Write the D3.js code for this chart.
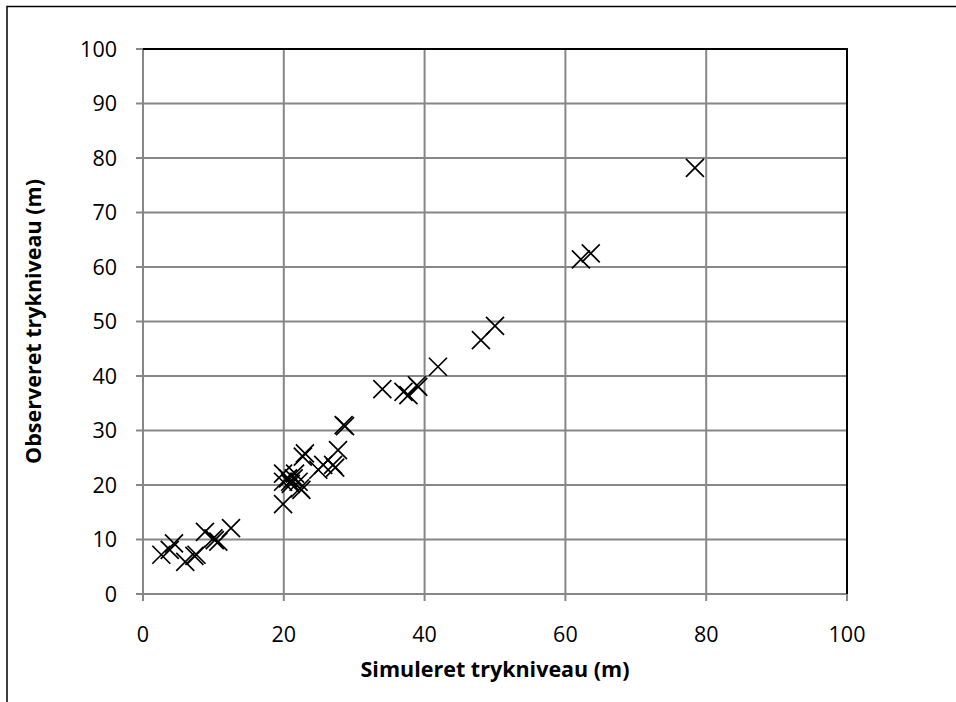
<!DOCTYPE html>
<html>
<head>
<meta charset="utf-8">
<script src="https://cdn.jsdelivr.net/npm/d3@7"></script>
<style>
  body { margin: 0; background: #fff; }
  text { font-family: "Open Sans", sans-serif; }
</style>
</head>
<body>
<svg id="chart" width="956" height="702"></svg>
<script>
// simulated vs observed pressure level (m)
const simulated = [2.6, 3.8, 4.4, 6.0, 7.3, 7.6, 8.8, 10.0, 10.2, 10.7, 12.5,
                   19.9, 23.0, 22.7, 27.7, 25.6, 27.0, 24.9, 27.3, 19.9, 20.6, 21.4, 20.9, 22.1, 22.3, 22.5, 19.9, 21.6, 21.0,
                   34.0, 37.0, 37.7, 38.9, 39.1, 41.9, 28.5, 28.7,
                   48.0, 50.0, 62.2, 63.6, 78.4]
const observed  = [7.2, 8.1, 9.3, 5.9, 7.0, 7.2, 11.4, 10.2, 9.9, 9.6, 12.1,
                   16.5, 25.8, 25.2, 26.4, 23.7, 23.7, 22.8, 23.2, 22.1, 21.2, 21.2, 20.6, 20.6, 19.4, 19.1, 20.6, 22.1, 20.2,
                   37.6, 37.1, 36.5, 38.3, 38.0, 41.7, 31.0, 30.8,
                   46.6, 49.2, 61.4, 62.5, 78.2]
const ticks = [0, 10, 20, 30, 40, 50, 60, 70, 80, 90, 100]
const xTicks = [0, 20, 40, 60, 80, 100]

const svg = d3.select("#chart")
const margin = {top: 49, left: 143, right: 109, bottom: 108}
const width = 956 - margin.left - margin.right,
      height = 702 - margin.top - margin.bottom

// outer frame
svg.append("path")
   .attr("d", "M7,702 V6.5 H956")
   .attr("fill", "none")
   .attr("stroke", "black")
   .attr("stroke-width", 1.5)

const g = svg.append("g")
             .attr("transform", "translate(" + margin.left + "," + margin.top + ")")

const x = d3.scaleLinear().domain([0, 100]).range([0, width])
const y = d3.scaleLinear().domain([0, 100]).range([height, 0])

// grid
g.selectAll(".hgrid")
 .data(ticks)
 .enter()
 .append("line")
 .attr("x1", -7)
 .attr("x2", width)
 .attr("y1", d => y(d))
 .attr("y2", d => y(d))
 .attr("stroke", "#878787")
 .attr("stroke-width", 2)

g.selectAll(".vgrid")
 .data(xTicks)
 .enter()
 .append("line")
 .attr("x1", d => x(d))
 .attr("x2", d => x(d))
 .attr("y1", 0)
 .attr("y2", height + 7)
 .attr("stroke", "#878787")
 .attr("stroke-width", 2)

// top and right border of plot area
g.append("path")
 .attr("d", "M0,0 H" + width + " V" + height)
 .attr("fill", "none")
 .attr("stroke", "black")
 .attr("stroke-width", 2)

// tick labels
g.selectAll(".ylab")
 .data(ticks)
 .enter()
 .append("text")
 .attr("x", -26)
 .attr("y", d => y(d))
 .attr("dy", "0.35em")
 .attr("text-anchor", "end")
 .attr("font-size", 21.5)
 .text(d => d)

g.selectAll(".xlab")
 .data(xTicks)
 .enter()
 .append("text")
 .attr("x", d => x(d))
 .attr("y", height + 40)
 .attr("dy", "0.35em")
 .attr("text-anchor", "middle")
 .attr("font-size", 21.5)
 .text(d => d)

// axis titles
g.append("text")
 .attr("x", width / 2)
 .attr("y", height + 75)
 .attr("dy", "0.35em")
 .attr("text-anchor", "middle")
 .attr("font-size", 21.5)
 .attr("font-weight", "bold")
 .text("Simuleret trykniveau (m)")

g.append("text")
 .attr("transform", "translate(-110," + (height / 2) + ") rotate(-90)")
 .attr("dy", "0.35em")
 .attr("text-anchor", "middle")
 .attr("font-size", 21.5)
 .attr("font-weight", "bold")
 .text("Observeret trykniveau (m)")

// markers
const pts = simulated.map((d, i) => ({sim: d, obs: observed[i]}))
const s = 9
g.selectAll(".pt")
 .data(pts)
 .enter()
 .append("path")
 .attr("transform", d => "translate(" + x(d.sim) + "," + y(d.obs) + ")")
 .attr("d", "M" + (-s) + "," + (-s) + "L" + s + "," + s + "M" + (-s) + "," + s + "L" + s + "," + (-s))
 .attr("stroke", "black")
 .attr("stroke-width", 1.7)
 .attr("fill", "none")
</script>
</body>
</html>
